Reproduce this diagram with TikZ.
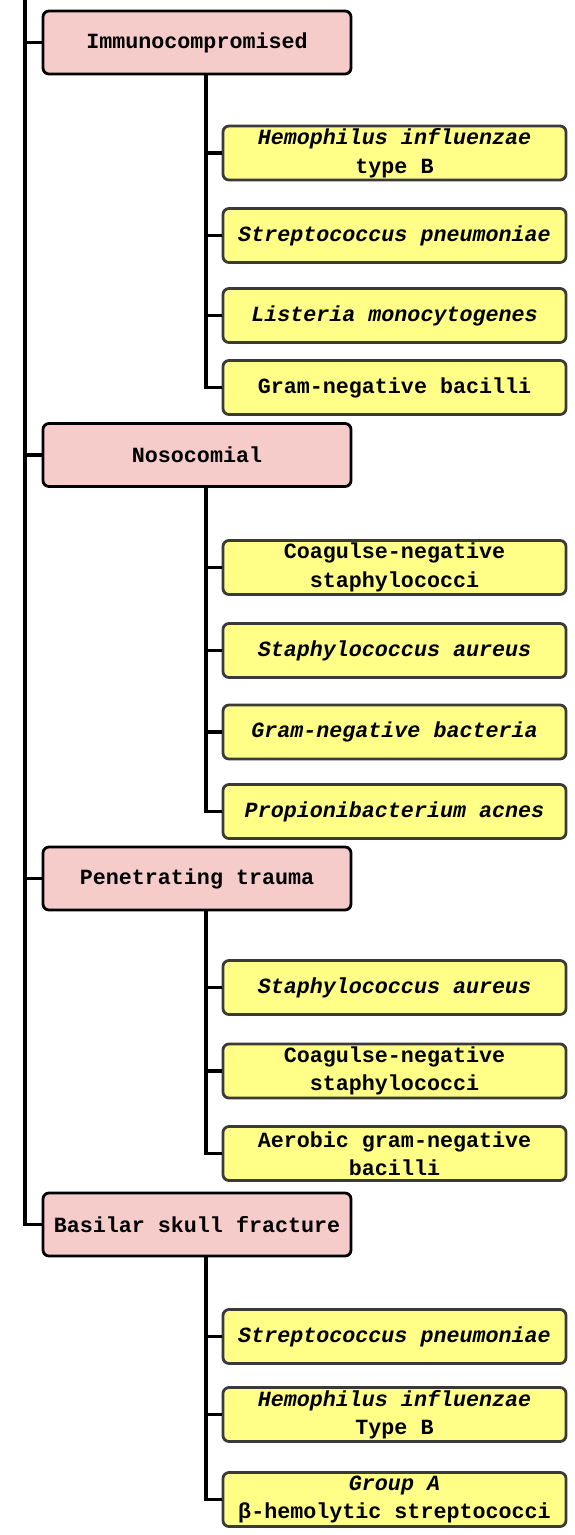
\documentclass[tikz,border=0pt]{standalone}
\usepackage{fontspec}
\setmonofont{Liberation Mono}
\usepackage{xcolor}
\usepackage{tikz}
\definecolor{pinkfill}{HTML}{F6CCCB}
\definecolor{yellowfill}{HTML}{FFFF88}
\definecolor{greyline}{HTML}{3A3A3A}
\tikzstyle{risk} = [rectangle, rounded corners=6pt, minimum width=308pt, minimum height=63pt, inner sep=0pt, text centered, draw=black, line width=2.8pt, fill=pinkfill, font=\ttfamily\bfseries\fontsize{21.7}{28.5}\selectfont]
\tikzstyle{bug} = [rectangle, rounded corners=6pt, minimum width=343pt, minimum height=54pt, inner xsep=4pt, inner ysep=0pt, align=center, draw=greyline, line width=2.8pt, fill=yellowfill, font=\ttfamily\bfseries\fontsize{21.7}{28.5}\selectfont]
\tikzstyle{line} = [line width=3.3pt, black]

\begin{document}
\begin{tikzpicture}[x=1pt, y=-1pt]
	\useasboundingbox (0,0) rectangle (574,1535);
	\coordinate (top) at (25,0);
	\node (imm) [risk] at (197,42.5) {Immunocompromised};
	\node (imm1) [bug] at (394.5,153) {\itshape Hemophilus influenzae\\type B};
	\node (imm2) [bug] at (394.5,235.5) {\itshape Streptococcus pneumoniae};
	\node (imm3) [bug] at (394.5,315.5) {\itshape Listeria monocytogenes};
	\node (imm4) [bug] at (394.5,387.5) {Gram-negative bacilli};
	\node (noso) [risk] at (197,455) {Nosocomial};
	\node (noso1) [bug] at (394.5,567.5) {Coagulse-negative\\staphylococci};
	\node (noso2) [bug] at (394.5,650.5) {\itshape Staphylococcus aureus};
	\node (noso3) [bug] at (394.5,732) {\itshape Gram-negative bacteria};
	\node (noso4) [bug] at (394.5,811.5) {\itshape Propionibacterium acnes};
	\node (pen) [risk] at (197,878.5) {Penetrating trauma};
	\node (pen1) [bug] at (394.5,987.5) {\itshape Staphylococcus aureus};
	\node (pen2) [bug] at (394.5,1071) {Coagulse-negative\\staphylococci};
	\node (pen3) [bug] at (394.5,1153.5) {Aerobic gram-negative\\bacilli};
	\node (bsf) [risk] at (197,1224.5) {Basilar skull fracture};
	\node (bsf1) [bug] at (394.5,1336.5) {\itshape Streptococcus pneumoniae};
	\node (bsf2) [bug] at (394.5,1414.5) {\itshape Hemophilus influenzae\\Type B};
	\node (bsf3) [bug] at (394.5,1499.5) {\itshape Group A\\β-hemolytic streptococci};
	\draw [line] (top) |- (bsf.west);
	\draw [line] (top |- imm.west) -- (imm.west);
	\draw [line] (top |- noso.west) -- (noso.west);
	\draw [line] (top |- pen.west) -- (pen.west);
	\draw [line] ([xshift=9pt]imm.south) |- (imm4.west);
	\draw [line] ([xshift=9pt]imm.south) |- (imm1.west);
	\draw [line] ([xshift=9pt]imm.south) |- (imm2.west);
	\draw [line] ([xshift=9pt]imm.south) |- (imm3.west);
	\draw [line] ([xshift=9pt]noso.south) |- (noso4.west);
	\draw [line] ([xshift=9pt]noso.south) |- (noso1.west);
	\draw [line] ([xshift=9pt]noso.south) |- (noso2.west);
	\draw [line] ([xshift=9pt]noso.south) |- (noso3.west);
	\draw [line] ([xshift=9pt]pen.south) |- (pen3.west);
	\draw [line] ([xshift=9pt]pen.south) |- (pen1.west);
	\draw [line] ([xshift=9pt]pen.south) |- (pen2.west);
	\draw [line] ([xshift=9pt]bsf.south) |- (bsf3.west);
	\draw [line] ([xshift=9pt]bsf.south) |- (bsf1.west);
	\draw [line] ([xshift=9pt]bsf.south) |- (bsf2.west);
\end{tikzpicture}
\end{document}
